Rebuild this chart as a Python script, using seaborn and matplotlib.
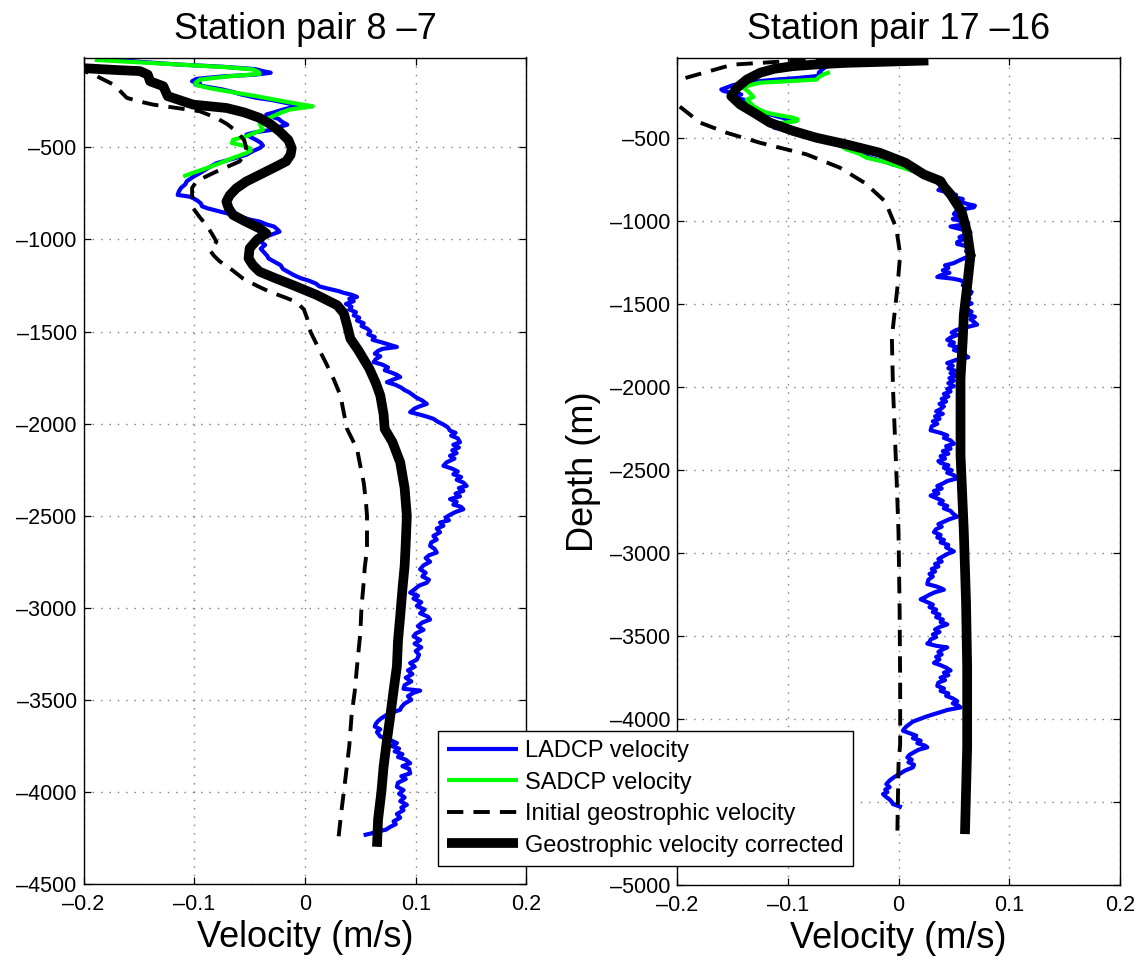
import matplotlib
matplotlib.use("Agg")
import matplotlib.pyplot as plt
import seaborn as sns
import pandas as pd

# ---------------- data (depth m, velocity m/s) ----------------
titles = ["Station pair 8 \u20137", "Station pair 17 \u201316"]
xticks = [-0.2, -0.1, 0.0, 0.1, 0.2]
xticklabels = ["\u20130.2", "\u20130.1", "0", "0.1", "0.2"]
yticks_left = [-500, -1000, -1500, -2000, -2500, -3000, -3500, -4000, -4500]
yticks_right = [-500, -1000, -1500, -2000, -2500, -3000, -3500, -4000, -4500, -5000]
series_names = ["LADCP velocity", "SADCP velocity",
                "Initial geostrophic velocity", "Geostrophic velocity corrected"]

ladcp_8_7 = [(-20,-0.178),(-35,-0.150),(-50,-0.115),(-62,-0.075),(-75,-0.045),(-86,-0.038),(-95,-0.031),
 (-105,-0.045),(-115,-0.075),(-128,-0.098),(-141,-0.102),(-150,-0.095),(-159,-0.099),(-172,-0.088),
 (-185,-0.075),(-198,-0.066),(-212,-0.058),(-231,-0.044),(-243,-0.030),(-255,-0.020),(-266,-0.011),
 (-277,-0.005),(-286,-0.014),(-295,-0.020),(-310,-0.028),(-322,-0.035),(-331,-0.032),(-345,-0.024),
 (-360,-0.021),(-377,-0.016),(-390,-0.024),(-404,-0.029),(-418,-0.045),(-431,-0.053),(-445,-0.049),
 (-460,-0.044),(-475,-0.040),(-490,-0.038),(-504,-0.041),(-520,-0.047),(-540,-0.053),(-560,-0.064),
 (-586,-0.080),(-610,-0.087),(-640,-0.095),(-660,-0.101),(-685,-0.107),(-700,-0.108),(-720,-0.112),
 (-740,-0.114),(-758,-0.115),(-768,-0.104),(-776,-0.101),(-790,-0.097),(-805,-0.094),(-820,-0.093),
 (-831,-0.088),(-845,-0.079),(-856,-0.072),(-867,-0.064),(-880,-0.057),(-892,-0.050),(-903,-0.041),
 (-918,-0.035),(-930,-0.028),(-945,-0.025),(-958,-0.023),(-975,-0.031),(-990,-0.037),(-1012,-0.040),
 (-1030,-0.036),(-1050,-0.040),(-1070,-0.037),(-1090,-0.034),(-1103,-0.033),(-1120,-0.028),
 (-1140,-0.022),(-1160,-0.020),(-1180,-0.014),(-1194,-0.010),(-1210,-0.004),(-1225,0.004),
 (-1240,0.010),(-1255,0.013),(-1266,0.020),(-1280,0.030),(-1290,0.035),(-1300,0.042),(-1312,0.047),
 (-1322,0.040),(-1335,0.044),(-1350,0.037),(-1365,0.042),(-1380,0.040),(-1395,0.046),(-1412,0.044),
 (-1425,0.049),(-1440,0.047),(-1455,0.053),(-1470,0.051),(-1484,0.056),(-1500,0.059),(-1515,0.057),
 (-1530,0.063),(-1545,0.061),(-1560,0.070),(-1575,0.078),(-1584,0.083),(-1594,0.070),(-1605,0.066),
 (-1620,0.063),(-1635,0.068),(-1650,0.064),(-1666,0.062),(-1680,0.070),(-1695,0.075),(-1710,0.072),
 (-1725,0.079),(-1735,0.083),(-1747,0.086),(-1760,0.080),(-1775,0.074),(-1790,0.082),(-1805,0.087),
 (-1818,0.090),(-1830,0.094),(-1847,0.098),(-1860,0.101),(-1875,0.106),(-1893,0.110),(-1905,0.104),
 (-1918,0.099),(-1938,0.095),(-1950,0.103),(-1962,0.110),(-1974,0.116),(-1990,0.120),(-2005,0.125),
 (-2020,0.129),(-2038,0.131),(-2050,0.136),(-2065,0.132),(-2080,0.138),(-2101,0.140),(-2115,0.134),
 (-2130,0.139),(-2145,0.133),(-2160,0.137),(-2175,0.131),(-2190,0.135),(-2210,0.128),(-2229,0.125),
 (-2245,0.133),(-2260,0.138),(-2275,0.134),(-2290,0.141),(-2305,0.137),(-2320,0.143),(-2338,0.146),
 (-2350,0.139),(-2365,0.143),(-2380,0.136),(-2395,0.140),(-2410,0.131),(-2425,0.137),(-2440,0.134),
 (-2452,0.141),(-2465,0.143),(-2480,0.136),(-2495,0.131),(-2510,0.127),(-2525,0.130),(-2537,0.122),
 (-2555,0.125),(-2570,0.119),(-2590,0.122),(-2610,0.116),(-2630,0.119),(-2645,0.114),(-2664,0.113),
 (-2680,0.117),(-2700,0.119),(-2715,0.112),(-2730,0.109),(-2750,0.113),(-2770,0.107),(-2791,0.104),
 (-2810,0.109),(-2830,0.106),(-2848,0.112),(-2864,0.110),(-2880,0.103),(-2900,0.099),(-2918,0.095),
 (-2935,0.102),(-2950,0.098),(-2970,0.105),(-2990,0.101),(-3010,0.108),(-3030,0.104),(-3048,0.111),
 (-3064,0.113),(-3080,0.106),(-3100,0.102),(-3120,0.107),(-3140,0.100),(-3155,0.098),(-3175,0.104),
 (-3195,0.099),(-3215,0.105),(-3235,0.100),(-3255,0.103),(-3282,0.101),(-3300,0.095),(-3320,0.099),
 (-3340,0.093),(-3360,0.097),(-3380,0.091),(-3400,0.096),(-3420,0.090),(-3440,0.089),(-3450,0.104),
 (-3462,0.098),(-3480,0.093),(-3500,0.096),(-3520,0.090),(-3540,0.087),(-3554,0.086),(-3568,0.079),
 (-3581,0.074),(-3600,0.069),(-3615,0.066),(-3630,0.064),(-3645,0.063),(-3660,0.068),(-3675,0.065),
 (-3699,0.068),(-3715,0.076),(-3735,0.083),(-3750,0.078),(-3765,0.085),(-3780,0.081),(-3795,0.088),
 (-3810,0.084),(-3825,0.091),(-3844,0.095),(-3860,0.088),(-3875,0.094),(-3899,0.095),(-3915,0.087),
 (-3930,0.091),(-3950,0.084),(-3972,0.083),(-3990,0.089),(-4010,0.085),(-4030,0.090),(-4050,0.086),
 (-4070,0.092),(-4085,0.087),(-4099,0.089),(-4120,0.083),(-4140,0.086),(-4160,0.080),(-4175,0.082),
 (-4190,0.077),(-4205,0.073),(-4215,0.066),(-4225,0.060),(-4235,0.053)]

sadcp_8_7 = [(-25,-0.190),(-45,-0.130),(-65,-0.070),(-77,-0.047),(-90,-0.042),(-101,-0.041),(-115,-0.070),
 (-132,-0.095),(-150,-0.099),(-162,-0.098),(-180,-0.085),(-200,-0.066),(-222,-0.044),(-240,-0.028),
 (-260,-0.010),(-277,0.007),(-287,-0.005),(-295,-0.014),(-312,-0.022),(-331,-0.029),(-350,-0.036),
 (-368,-0.041),(-385,-0.040),(-404,-0.038),(-420,-0.045),(-440,-0.053),(-459,-0.065),(-477,-0.066),
 (-490,-0.056),(-504,-0.050),(-518,-0.049),(-531,-0.053),(-555,-0.064),(-586,-0.077),(-615,-0.090),
 (-640,-0.102),(-658,-0.110)]

initial_8_7 = [(-70,-0.210),(-100,-0.192),(-123,-0.185),(-159,-0.173),(-200,-0.166),(-231,-0.161),
 (-250,-0.150),(-268,-0.137),(-286,-0.116),(-304,-0.095),(-340,-0.080),(-375,-0.070),(-413,-0.062),
 (-460,-0.055),(-504,-0.053),(-540,-0.055),(-576,-0.059),(-605,-0.070),(-631,-0.080),(-660,-0.090),
 (-685,-0.098),(-720,-0.102),(-758,-0.102),(-795,-0.101),(-831,-0.101),(-880,-0.095),(-922,-0.089),
 (-970,-0.084),(-1012,-0.080),(-1040,-0.083),(-1059,-0.086),(-1090,-0.082),(-1119,-0.077),
 (-1165,-0.066),(-1212,-0.056),(-1250,-0.044),(-1284,-0.032),(-1315,-0.018),(-1339,-0.008),
 (-1380,-0.001),(-1430,0.002),(-1502,0.005),(-1600,0.013),(-1684,0.020),(-1760,0.026),(-1847,0.032),
 (-1940,0.035),(-2029,0.038),(-2138,0.047),(-2230,0.050),(-2319,0.053),(-2420,0.055),(-2501,0.056),
 (-2600,0.056),(-2682,0.056),(-2780,0.054),(-2864,0.053),(-3000,0.051),(-3136,0.050),(-3318,0.047),
 (-3450,0.045),(-3590,0.042),(-3750,0.040),(-3953,0.036),(-4100,0.033),(-4262,0.030)]

corrected_8_7 = [(-45,-0.230),(-70,-0.200),(-80,-0.170),(-86,-0.149),(-105,-0.142),(-141,-0.140),
 (-168,-0.128),(-222,-0.124),(-250,-0.110),(-268,-0.101),(-286,-0.071),(-310,-0.055),(-340,-0.041),
 (-375,-0.031),(-413,-0.023),(-460,-0.015),(-504,-0.012),(-540,-0.013),(-576,-0.017),(-610,-0.028),
 (-649,-0.041),(-685,-0.053),(-722,-0.062),(-760,-0.068),(-794,-0.071),(-830,-0.069),(-867,-0.065),
 (-905,-0.053),(-940,-0.041),(-967,-0.035),(-1000,-0.043),(-1048,-0.050),(-1103,-0.051),
 (-1140,-0.047),(-1175,-0.041),(-1210,-0.027),(-1248,-0.011),(-1300,0.010),(-1357,0.029),
 (-1400,0.035),(-1466,0.038),(-1539,0.041),(-1600,0.048),(-1700,0.058),(-1780,0.064),(-1847,0.068),
 (-1950,0.071),(-2029,0.072),(-2100,0.079),(-2210,0.086),(-2350,0.090),(-2501,0.092),(-2650,0.091),
 (-2773,0.090),(-2900,0.088),(-3046,0.086),(-3180,0.084),(-3318,0.083),(-3450,0.080),(-3590,0.077),
 (-3720,0.074),(-3863,0.071),(-4000,0.069),(-4150,0.066),(-4298,0.065)]

ladcp_17_16 = [(-25,-0.030),(-35,-0.050),(-50,-0.060),(-70,-0.066),(-90,-0.070),(-104,-0.072),
 (-115,-0.069),(-125,-0.075),(-135,-0.090),(-145,-0.110),(-154,-0.125),(-165,-0.140),(-180,-0.150),
 (-195,-0.156),(-205,-0.160),(-214,-0.158),(-225,-0.150),(-235,-0.142),(-245,-0.149),(-255,-0.152),
 (-265,-0.140),(-275,-0.137),(-285,-0.142),(-295,-0.139),(-310,-0.134),(-325,-0.130),(-340,-0.123),
 (-355,-0.116),(-370,-0.108),(-385,-0.098),(-395,-0.095),(-410,-0.108),(-425,-0.113),(-436,-0.112),
 (-446,-0.101),(-460,-0.094),(-475,-0.085),(-496,-0.074),(-515,-0.062),(-530,-0.052),(-545,-0.047),
 (-560,-0.044),(-575,-0.036),(-590,-0.032),(-605,-0.030),(-616,-0.026),(-630,-0.018),(-645,-0.010),
 (-657,-0.005),(-670,0.003),(-683,0.008),(-696,0.014),(-710,0.022),(-727,0.030),(-745,0.034),
 (-760,0.039),(-775,0.036),(-790,0.041),(-800,0.038),(-811,0.036),(-825,0.045),(-840,0.052),
 (-852,0.049),(-865,0.058),(-880,0.056),(-895,0.062),(-905,0.069),(-915,0.068),(-925,0.060),
 (-940,0.052),(-955,0.050),(-970,0.055),(-985,0.049),(-1000,0.058),(-1015,0.063),(-1031,0.047),
 (-1045,0.055),(-1055,0.061),(-1066,0.065),(-1080,0.060),(-1095,0.055),(-1110,0.058),(-1125,0.053),
 (-1136,0.053),(-1150,0.062),(-1165,0.066),(-1180,0.061),(-1193,0.066),(-1205,0.068),(-1220,0.060),
 (-1235,0.055),(-1251,0.050),(-1265,0.042),(-1280,0.045),(-1295,0.040),(-1310,0.046),(-1325,0.038),
 (-1335,0.035),(-1345,0.049),(-1355,0.056),(-1370,0.060),(-1385,0.058),(-1400,0.064),(-1415,0.062),
 (-1425,0.066),(-1437,0.065),(-1450,0.060),(-1465,0.064),(-1480,0.061),(-1495,0.066),(-1510,0.059),
 (-1529,0.062),(-1545,0.066),(-1560,0.062),(-1575,0.069),(-1590,0.065),(-1605,0.068),(-1622,0.071),
 (-1640,0.060),(-1655,0.052),(-1670,0.048),(-1685,0.053),(-1700,0.047),(-1714,0.044),(-1730,0.050),
 (-1745,0.046),(-1760,0.054),(-1775,0.050),(-1790,0.057),(-1805,0.060),(-1819,0.063),(-1835,0.052),
 (-1854,0.044),(-1870,0.049),(-1885,0.045),(-1900,0.051),(-1915,0.047),(-1930,0.052),(-1945,0.046),
 (-1960,0.050),(-1975,0.045),(-1993,0.050),(-2010,0.044),(-2025,0.047),(-2040,0.041),(-2055,0.045),
 (-2070,0.039),(-2085,0.043),(-2100,0.037),(-2115,0.041),(-2131,0.038),(-2145,0.034),(-2160,0.040),
 (-2175,0.033),(-2190,0.037),(-2205,0.031),(-2220,0.035),(-2235,0.030),(-2259,0.029),(-2275,0.038),
 (-2290,0.044),(-2305,0.041),(-2320,0.047),(-2340,0.050),(-2355,0.043),(-2370,0.047),(-2385,0.040),
 (-2400,0.045),(-2415,0.038),(-2430,0.042),(-2445,0.036),(-2456,0.038),(-2470,0.045),(-2485,0.041),
 (-2500,0.048),(-2515,0.044),(-2530,0.050),(-2549,0.053),(-2565,0.044),(-2580,0.040),(-2595,0.035),
 (-2610,0.039),(-2625,0.032),(-2640,0.036),(-2653,0.029),(-2670,0.035),(-2685,0.040),(-2700,0.037),
 (-2715,0.044),(-2730,0.041),(-2745,0.047),(-2760,0.049),(-2780,0.053),(-2795,0.046),(-2810,0.041),
 (-2825,0.036),(-2840,0.039),(-2855,0.034),(-2873,0.032),(-2890,0.038),(-2905,0.035),(-2920,0.041),
 (-2935,0.038),(-2950,0.045),(-2965,0.043),(-2989,0.050),(-3005,0.044),(-3020,0.040),(-3035,0.036),
 (-3050,0.039),(-3065,0.033),(-3080,0.036),(-3095,0.030),(-3110,0.033),(-3125,0.028),(-3140,0.031),
 (-3160,0.027),(-3186,0.026),(-3200,0.034),(-3210,0.038),(-3220,0.041),(-3235,0.033),(-3250,0.028),
 (-3265,0.024),(-3278,0.020),(-3295,0.026),(-3310,0.031),(-3325,0.028),(-3340,0.034),(-3355,0.031),
 (-3370,0.037),(-3385,0.034),(-3400,0.040),(-3415,0.038),(-3429,0.044),(-3445,0.037),(-3460,0.033),
 (-3475,0.037),(-3490,0.031),(-3505,0.034),(-3520,0.029),(-3535,0.028),(-3545,0.026),(-3558,0.034),
 (-3568,0.044),(-3580,0.040),(-3595,0.036),(-3610,0.039),(-3625,0.034),(-3640,0.037),(-3661,0.032),
 (-3675,0.038),(-3690,0.043),(-3707,0.047),(-3720,0.041),(-3735,0.045),(-3750,0.038),(-3765,0.042),
 (-3780,0.036),(-3800,0.035),(-3815,0.041),(-3830,0.038),(-3845,0.045),(-3860,0.043),(-3875,0.049),
 (-3892,0.053),(-3905,0.049),(-3918,0.054),(-3930,0.056),(-3945,0.044),(-3958,0.038),(-3970,0.032),
 (-3985,0.025),(-4000,0.019),(-4015,0.013),(-4030,0.010),(-4045,0.007),(-4060,0.005),(-4070,0.004),
 (-4085,0.010),(-4100,0.016),(-4115,0.013),(-4130,0.020),(-4145,0.017),(-4160,0.024),(-4170,0.026),
 (-4185,0.018),(-4200,0.014),(-4215,0.010),(-4231,0.008),(-4245,0.012),(-4260,0.009),(-4275,0.014),
 (-4291,0.013),(-4310,0.006),(-4330,0.001),(-4350,-0.004),(-4370,-0.008),(-4392,-0.011),(-4410,-0.008),
 (-4425,-0.012),(-4440,-0.010),(-4452,-0.014),(-4470,-0.011),(-4485,-0.008),(-4500,-0.006),
 (-4512,-0.005),(-4522,-0.001),(-4532,0.003)]

sadcp_17_16 = [(-100,-0.062),(-115,-0.068),(-130,-0.072),(-145,-0.074),(-155,-0.100),(-164,-0.125),
 (-180,-0.135),(-195,-0.140),(-215,-0.136),(-235,-0.133),(-250,-0.131),(-265,-0.137),(-285,-0.134),
 (-305,-0.131),(-325,-0.126),(-345,-0.119),(-360,-0.108),(-375,-0.095),(-385,-0.091),(-395,-0.092),
 (-405,-0.103),(-416,-0.113),(-430,-0.108),(-450,-0.098),(-475,-0.086),(-496,-0.074),(-530,-0.056),
 (-566,-0.047),(-590,-0.036),(-616,-0.029),(-640,-0.013),(-657,-0.005),(-690,0.010),(-720,0.022),
 (-745,0.033),(-764,0.041)]

initial_17_16 = [(-26,-0.060),(-32,-0.095),(-55,-0.150),(-150,-0.200),(-210,-0.220),(-260,-0.210),
 (-300,-0.199),(-405,-0.179),(-466,-0.155),(-526,-0.125),(-596,-0.083),(-676,-0.053),(-770,-0.030),
 (-880,-0.012),(-1040,-0.002),(-1200,0.0015),(-1400,-0.001),(-1700,-0.006),(-2000,-0.005),
 (-2500,-0.002),(-2870,0.000),(-3340,0.001),(-3800,0.0015),(-4150,0.0015),(-4271,0.000),(-4672,-0.001)]

corrected_17_16 = [(-30,0.027),(-35,0.000),(-40,-0.025),(-44,-0.047),(-52,-0.070),(-64,-0.095),
 (-80,-0.112),(-104,-0.125),(-145,-0.137),(-195,-0.146),(-245,-0.151),(-295,-0.143),(-355,-0.128),
 (-405,-0.116),(-455,-0.095),(-496,-0.074),(-536,-0.047),(-586,-0.017),(-646,0.006),(-717,0.023),
 (-757,0.038),(-790,0.041),(-837,0.047),(-940,0.057),(-1066,0.062),(-1205,0.065),(-1390,0.062),
 (-1560,0.059),(-1714,0.058),(-1946,0.056),(-2163,0.056),(-2410,0.056),(-2873,0.059),(-3300,0.061),
 (-3688,0.062),(-4170,0.062),(-4693,0.060)]

panels = [
    (ladcp_8_7, sadcp_8_7, initial_8_7, corrected_8_7, -4500, yticks_left),
    (ladcp_17_16, sadcp_17_16, initial_17_16, corrected_17_16, -5000, yticks_right),
]

# ---------------- style ----------------
sns.set_style("ticks")
plt.rcParams["font.family"] = ["Liberation Sans", "DejaVu Sans"]
plt.rcParams["text.color"] = "black"
plt.rcParams["axes.labelcolor"] = "black"
plt.rcParams["xtick.color"] = "black"
plt.rcParams["ytick.color"] = "black"

W, H = 1142, 960
fig = plt.figure(figsize=(W / 100, H / 100), dpi=100)
ax_rects = [
    [83.6 / W, 1 - 884 / H, 442.8 / W, 826.5 / H],
    [677.0 / W, 1 - 885 / H, 443.0 / W, 827.5 / H],
]

styles = [
    dict(color="#0000FF", lw=3.0, ls="-"),
    dict(color="#00FF00", lw=3.0, ls="-"),
    dict(color="black", lw=2.8, dashes=(4.2, 2.6)),
    dict(color="black", lw=7.0, ls="-"),
]

for i, (lad, sad, ini, cor, ybot, yt) in enumerate(panels):
    ax = fig.add_axes(ax_rects[i])
    for name, series, st in zip(series_names, [lad, sad, ini, cor], styles):
        df = pd.DataFrame(series, columns=["depth", "vel"])
        kw = dict(color=st["color"], lw=st["lw"])
        if "dashes" in st:
            kw["dashes"] = st["dashes"]
        sns.lineplot(data=df, x="vel", y="depth", sort=False, estimator=None,
                     ax=ax, label=name, solid_capstyle="butt", dash_capstyle="butt", **kw)
    ax.set_xlim(-0.2, 0.2)
    ax.set_ylim(ybot, -12)
    ax.set_xticks(xticks)
    ax.set_xticklabels(xticklabels)
    ax.set_yticks(yt)
    ax.set_yticklabels(["\u2013" + str(abs(v)) for v in yt])
    ax.grid(True, color="#7f7f7f", linestyle=(0, (1, 5)), linewidth=1.0)
    ax.tick_params(direction="in", top=True, right=True, length=5, width=0.9,
                   labelsize=15.5, colors="black")
    ax.tick_params(axis="x", pad=7)
    ax.tick_params(axis="y", pad=5)
    for sp in ax.spines.values():
        sp.set_visible(True)
        sp.set_color("black")
        sp.set_linewidth(1.0)
    ax.set_xlabel("Velocity (m/s)", fontsize=26, labelpad=4, color="black")
    ax.set_title(titles[i], fontsize=26, pad=13, color="black")
    if i == 1:
        ax.set_ylabel("Depth (m)", fontsize=26, labelpad=6, color="black")
    else:
        ax.set_ylabel("")
    lg = ax.get_legend()
    if lg is not None:
        lg.remove()
    if i == 0:
        handles, labels = ax.get_legend_handles_labels()

leg = fig.legend(handles, labels, loc="lower left",
                 bbox_to_anchor=(438 / W, 1 - 866 / H), bbox_transform=fig.transFigure,
                 borderaxespad=0, fontsize=17, handlelength=3.0, handletextpad=0.3,
                 labelspacing=0.4, borderpad=0.4, fancybox=False, framealpha=1,
                 edgecolor="black")
leg.get_frame().set_linewidth(1.0)
leg.set_zorder(10)
for t in leg.get_texts():
    t.set_color("black")

fig.savefig("out.png", dpi=100, facecolor="white")
